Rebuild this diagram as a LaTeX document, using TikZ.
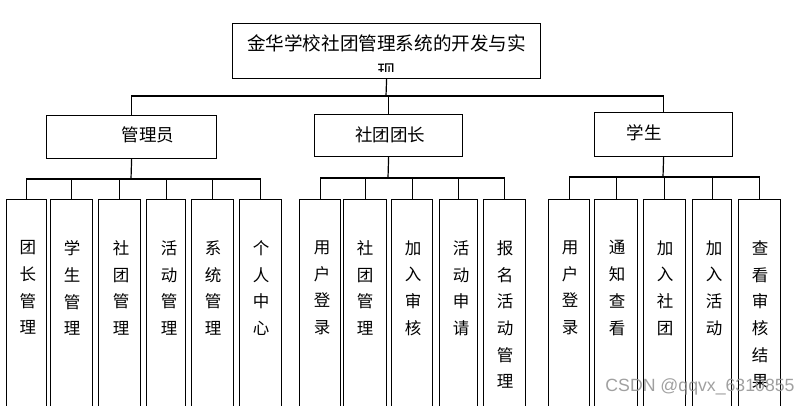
\documentclass[tikz,border=0pt]{standalone}
\usepackage{fontspec}
\setmainfont{Noto Sans CJK SC}
\newfontfamily\wmfont{Liberation Sans}
\definecolor{wmgray}{RGB}{150,150,150}
\newcommand\mkleaf[5]{%
  \node[box, minimum width={#3-#2}, minimum height=222, anchor=north west] (#1) at (#2,199) {};
  \node[leaftext] (#1t) at (#4,240) {#5};
}
\begin{document}
\begin{tikzpicture}[x=1pt,y=-1pt, line width=1.2pt,
  box/.style={draw, rectangle, inner sep=0pt},
  midtext/.style={inner sep=0pt, font=\fontsize{17.5}{20}\selectfont},
  leaftext/.style={anchor=north, inner sep=0pt, align=center, font=\fontsize{16.5}{26.7}\selectfont}]
\useasboundingbox (0,0) rectangle (808,405);
% title
\node[box, minimum width=308, minimum height=55, anchor=north west] (title) at (232,23) {};
\begin{scope}
  \clip (233,24) rectangle (540,71);
  \node[inner sep=0pt, font=\fontsize{18.6}{22}\selectfont] (titletext) at (386.5,43.5) {金华学校社团管理系统的开发与实};
  \node[inner sep=0pt, font=\fontsize{18.6}{22}\selectfont] (titlecut) at (386.5,71.5) {现};
\end{scope}
% level 2
\node[box, minimum width=170, minimum height=43, anchor=north west] (adm) at (46,115) {};
\node[midtext] (admt) at (148,135) {管理员};
\node[box, minimum width=148, minimum height=42, anchor=north west] (ldr) at (314,114) {};
\node[midtext] (ldrt) at (390,134.5) {社团团长};
\node[box, minimum width=138, minimum height=44, anchor=north west] (stu) at (594,112) {};
\node[midtext] (stut) at (644,133) {学生};
% leaves
\mkleaf{a1}{6}{46}{28}{团\\长\\管\\理}
\mkleaf{a2}{50}{92}{72}{学\\生\\管\\理}
\mkleaf{a3}{98}{140}{121}{社\\团\\管\\理}
\mkleaf{a4}{146}{185}{169}{活\\动\\管\\理}
\mkleaf{a5}{191}{233}{213}{系\\统\\管\\理}
\mkleaf{a6}{239}{281}{261}{个\\人\\中\\心}
\mkleaf{m1}{299}{340}{322}{用\\户\\登\\录}
\mkleaf{m2}{343}{386}{365}{社\\团\\管\\理}
\mkleaf{m3}{391}{432}{413}{加\\入\\审\\核}
\mkleaf{m4}{439}{477}{461}{活\\动\\申\\请}
\mkleaf{m5}{483}{525}{505}{报\\名\\活\\动\\管\\理}
\mkleaf{s1}{548}{589}{570}{用\\户\\登\\录}
\mkleaf{s2}{594}{637}{617}{通\\知\\查\\看}
\mkleaf{s3}{643}{685}{665}{加\\入\\社\\团}
\mkleaf{s4}{692}{731}{714}{加\\入\\活\\动}
\mkleaf{s5}{738}{780}{760}{查\\看\\审\\核\\结\\果}
% connectors level 1
\coordinate (b0) at (386,96);
\draw (title.south) -- (b0);
\draw (adm.north) |- (b0) -| (stu.north);
\draw (ldr.north) -- (ldr.north |- b0);
% admin bus
\coordinate (b1) at (131,179);
\draw (adm.south) -- (b1);
\draw (a1.north) |- (b1) -| (a6.north);
\foreach \n in {a2,a3,a4,a5} \draw (\n.north) -- (\n.north |- b1);
% leader bus
\coordinate (b2) at (388,178);
\draw (ldr.south) -- (b2);
\draw (m1.north) |- (b2) -| (m5.north);
\foreach \n in {m2,m3,m4} \draw (\n.north) -- (\n.north |- b2);
% student bus
\coordinate (b3) at (663,177);
\draw (stu.south) -- (b3);
\draw (s1.north) |- (b3) -| (s5.north);
\foreach \n in {s2,s3,s4} \draw (\n.north) -- (\n.north |- b3);
% watermark
\node[inner sep=0pt, text=wmgray, text opacity=0.9, font=\wmfont\fontsize{17.7}{20}\selectfont] (wm) at (700,387) {CSDN @qqvx\_6310855};
\end{tikzpicture}
\end{document}
